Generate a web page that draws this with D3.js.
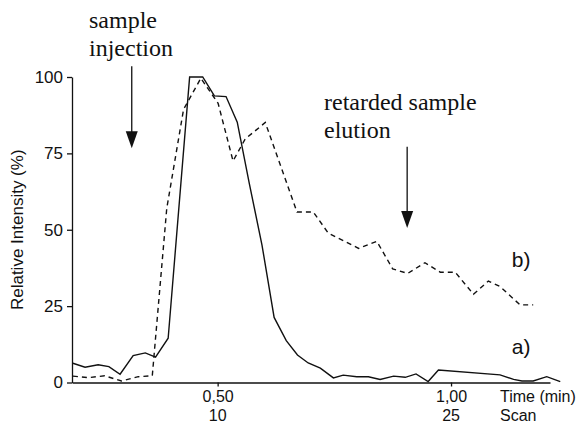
<!DOCTYPE html>
<html>
<head>
<meta charset="utf-8">
<script src="https://cdn.jsdelivr.net/npm/d3@7"></script>
<style>
  body { margin: 0; background: #fff; }
  svg { display: block; }
</style>
</head>
<body>
<div id="container"></div>
<script>
// trace a) - solid line
const timeA = [0.190, 0.216, 0.244, 0.267, 0.291, 0.319, 0.345, 0.367, 0.394, 0.440, 0.468,
  0.493, 0.518, 0.542, 0.568, 0.595, 0.621, 0.647, 0.671, 0.694, 0.720, 0.748, 0.769, 0.798,
  0.823, 0.848, 0.877, 0.902, 0.925, 0.951, 0.973, 1.105, 1.134, 1.152, 1.176, 1.205, 1.234];
const intensityA = [6.3, 5.0, 5.8, 5.2, 2.7, 8.8, 9.7, 8.3, 14.5, 100, 100,
  93.8, 93.6, 85.2, 65, 45, 21.3, 13.7, 9.0, 6.4, 4.7, 1.5, 2.4, 1.9,
  1.9, 1.0, 2.1, 1.7, 2.8, 0.3, 4.1, 2.5, 1.0, 0.5, 0.5, 1.9, 0.3];

// trace b) - dashed line
const timeB = [0.190, 0.223, 0.258, 0.294, 0.330, 0.360, 0.391, 0.427, 0.464, 0.501, 0.533,
  0.559, 0.602, 0.670, 0.705, 0.737, 0.802, 0.841, 0.875, 0.907, 0.944, 0.977, 1.009,
  1.048, 1.080, 1.105, 1.148, 1.176];
const intensityB = [2.1, 1.6, 2.2, 0.5, 1.9, 2.2, 57, 89.4, 99.6, 91.4, 72.5,
  79.7, 85.1, 55.8, 55.8, 48.9, 43.9, 46.2, 37.2, 35.7, 39.2, 36.1, 36.1,
  28.9, 33.2, 31.4, 25.4, 25.4];

const yTicks = [0, 25, 50, 75, 100];
const xTicks = [0.5, 1.0];
const xTickLabels = ["0,50", "1,00"];
const scanLabels = ["10", "25"];

const width = 581, height = 426;

const svg = d3.select("#container")
  .append("svg")
  .attr("width", width)
  .attr("height", height)
  .attr("viewBox", [0, 0, width, height]);

const x = d3.scaleLinear().domain([0.188, 1.212]).range([72, 550]);
const y = d3.scaleLinear().domain([0, 100]).range([382.5, 77]);

const sans = "'Liberation Sans', Arial, sans-serif";
const serif = "'Liberation Serif', 'Times New Roman', serif";

// axes
const xAxis = svg.append("g")
  .attr("transform", `translate(0,${y(0)})`)
  .call(d3.axisBottom(x)
    .tickValues(xTicks)
    .tickFormat((d, i) => xTickLabels[i])
    .tickSize(4)
    .tickSizeOuter(0)
    .tickPadding(4));
xAxis.selectAll("text").attr("font-size", 16).attr("font-family", sans).attr("fill", "#111");
xAxis.selectAll("path, line").attr("stroke", "#111").attr("stroke-width", 1.3);

const yAxis = svg.append("g")
  .attr("transform", `translate(${x.range()[0]},0)`)
  .call(d3.axisLeft(y)
    .tickValues(yTicks)
    .tickSize(5)
    .tickSizeOuter(0)
    .tickPadding(4));
yAxis.selectAll("text").attr("font-size", 17).attr("font-family", sans).attr("fill", "#111");
yAxis.selectAll("path, line").attr("stroke", "#111").attr("stroke-width", 1.3);

// scan numbers under the time ticks
svg.append("g").selectAll("text")
  .data(xTicks)
  .join("text")
  .attr("x", d => x(d))
  .attr("y", 421)
  .attr("text-anchor", "middle")
  .attr("font-family", sans)
  .attr("font-size", 16)
  .attr("fill", "#111")
  .text((d, i) => scanLabels[i]);

svg.append("text")
  .attr("x", 500).attr("y", 402)
  .attr("font-family", sans).attr("font-size", 16).attr("fill", "#111")
  .text("Time (min)");
svg.append("text")
  .attr("x", 500).attr("y", 421)
  .attr("font-family", sans).attr("font-size", 16).attr("fill", "#111")
  .text("Scan");

svg.append("text")
  .attr("transform", `translate(23,${(y(0) + y(100)) / 2}) rotate(-90)`)
  .attr("text-anchor", "middle")
  .attr("font-family", sans).attr("font-size", 17).attr("fill", "#111")
  .text("Relative Intensity (%)");

// traces
const lineA = d3.line().x((d, i) => x(timeA[i])).y(d => y(d));
const lineB = d3.line().x((d, i) => x(timeB[i])).y(d => y(d));

svg.append("path")
  .attr("d", lineB(intensityB))
  .attr("fill", "none")
  .attr("stroke", "#111")
  .attr("stroke-width", 1.4)
  .attr("stroke-dasharray", "5,4");

svg.append("path")
  .attr("d", lineA(intensityA))
  .attr("fill", "none")
  .attr("stroke", "#111")
  .attr("stroke-width", 1.4);

// trace labels
svg.append("text").attr("x", x(1.130)).attr("y", 267)
  .attr("font-family", sans).attr("font-size", 21).attr("fill", "#111")
  .text("b)");
svg.append("text").attr("x", x(1.130)).attr("y", 354)
  .attr("font-family", sans).attr("font-size", 21).attr("fill", "#111")
  .text("a)");

// annotations with arrows
function arrow(t, v0, v1) {
  const ax = x(t), y0 = y(v0), y1 = y(v1);
  svg.append("line")
    .attr("x1", ax).attr("x2", ax)
    .attr("y1", y0).attr("y2", y1 - 14)
    .attr("stroke", "#111").attr("stroke-width", 1.3);
  svg.append("path")
    .attr("d", `M${ax - 6},${y1 - 17} L${ax + 6},${y1 - 17} L${ax},${y1} Z`)
    .attr("fill", "#111");
}

arrow(0.316, 103.5, 76.7);
arrow(0.906, 77.2, 50.6);

function note(lines, px, py) {
  const t = svg.append("text")
    .attr("font-family", serif)
    .attr("font-size", 24)
    .attr("fill", "#111");
  lines.forEach((s, i) => {
    t.append("tspan").attr("x", px).attr("y", py + i * 28).text(s);
  });
}
note(["sample", "injection"], 89, 28);
note(["retarded sample", "elution"], 324, 110);
</script>
</body>
</html>
